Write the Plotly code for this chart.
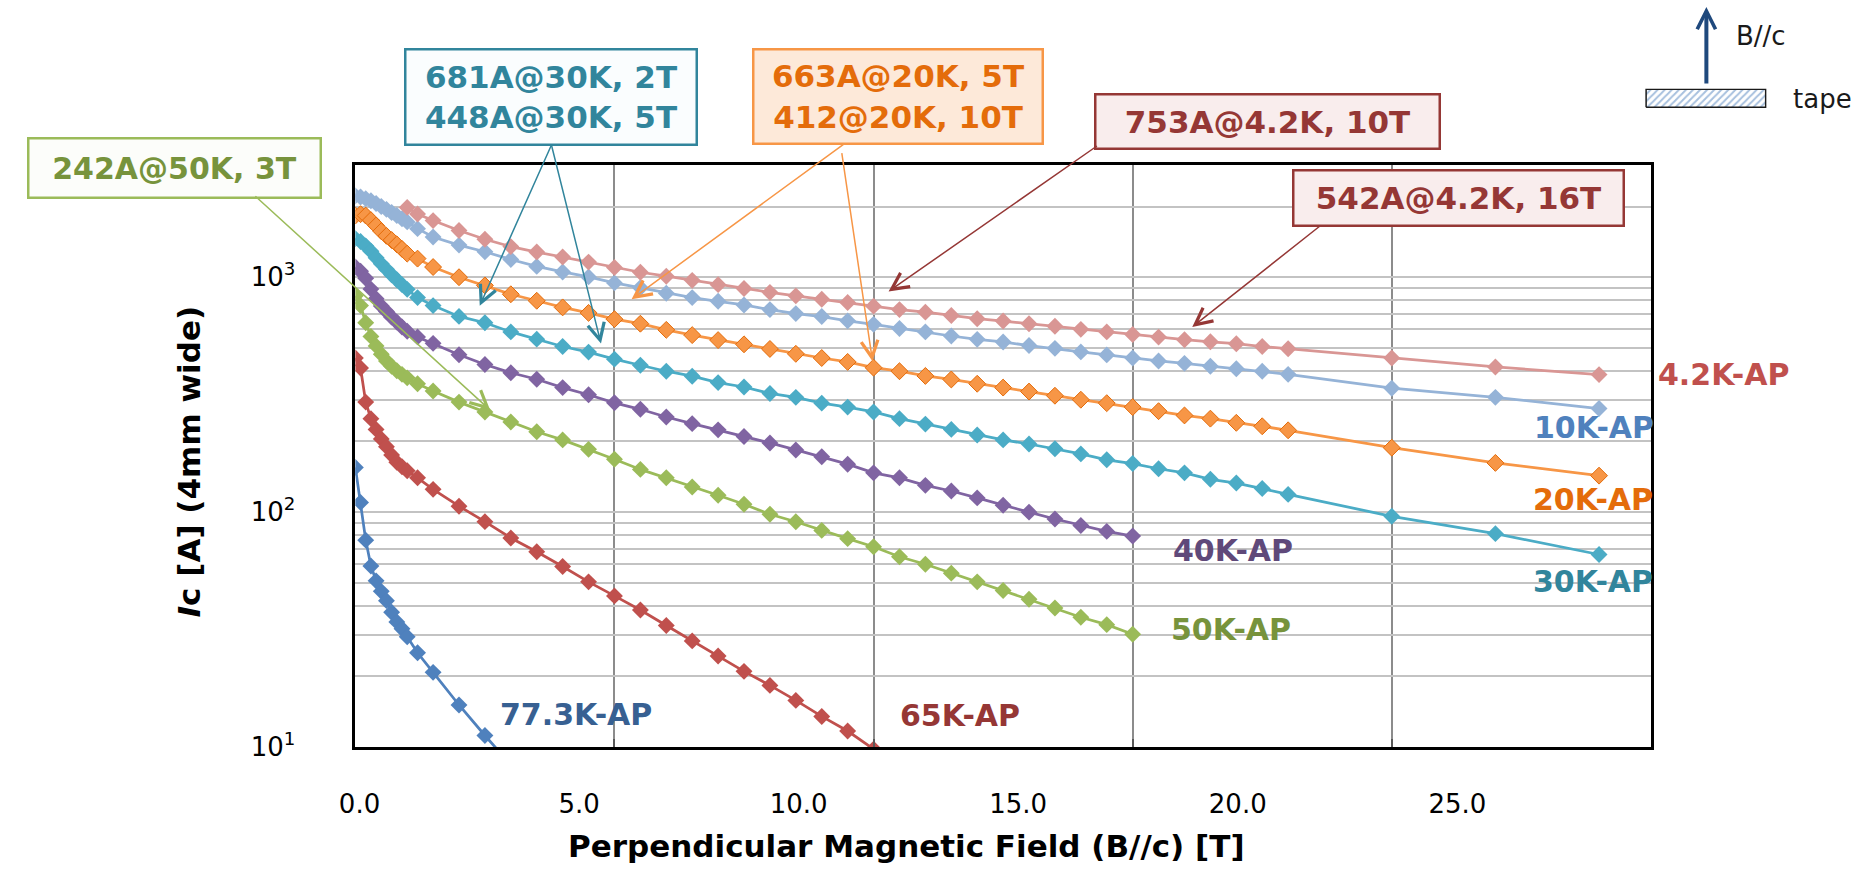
import numpy as np
import plotly.graph_objects as go

W, H = 1866, 880

# ---------------- data ----------------
B_LOW = [0.0, 0.1, 0.2, 0.3, 0.4, 0.5, 0.6, 0.7, 0.8, 0.9, 1.0, 1.2]
B_STEP = [1.5, 2.0, 2.5, 3.0, 3.5, 4.0, 4.5, 5.0, 5.5, 6.0, 6.5, 7.0, 7.5, 8.0, 8.5,
          9.0, 9.5, 10.0, 10.5, 11.0, 11.5, 12.0, 12.5, 13.0, 13.5, 14.0, 14.5, 15.0,
          15.5, 16.0, 16.5, 17.0, 17.5, 18.0]
B_HIGH = [20.0, 22.0, 24.0]

B_42K = [1.0, 1.2] + B_STEP + B_HIGH
IC_42K = [1983, 1857, 1742, 1582, 1450, 1350, 1280, 1220, 1160, 1100, 1050, 1010, 970, 930,
          895, 862, 833, 806, 781, 753, 728, 710, 687, 666, 651, 634, 618, 600, 585, 570,
          556, 542, 531, 521, 507, 496, 453, 415, 385]

B_10K = B_LOW + B_STEP + B_HIGH
IC_10K = [2220, 2195, 2160, 2115, 2060, 2000, 1945, 1885, 1830, 1775, 1720, 1610,
          1484, 1370, 1284, 1190, 1112, 1053, 1003, 946, 902, 855, 819, 790, 762, 728, 700,
          680, 652, 630, 605, 585, 562, 544, 530, 512, 498, 481, 467, 453, 440, 430, 418,
          408, 398, 386, 337, 308, 276]

B_20K = B_LOW + B_STEP + B_HIGH
IC_20K = [1830, 1855, 1830, 1750, 1660, 1570, 1500, 1440, 1380, 1320, 1260, 1200,
          1105, 1000, 923, 846, 794, 744, 705, 663, 634, 597, 567, 540, 518, 495, 472,
          453, 436, 412, 398, 380, 367, 352, 339, 326, 313, 301, 291, 280, 269, 258, 250,
          240, 232, 223, 188, 162, 143]

B_30K = B_LOW + B_STEP + B_HIGH
IC_30K = [1460, 1420, 1360, 1290, 1210, 1140, 1080, 1025, 975, 930, 888, 819,
          757, 681, 640, 585, 545, 507, 480, 448, 422, 398, 379, 356, 341, 320, 308, 291,
          280, 267, 250, 237, 225, 213, 203, 195, 186, 177, 167, 161, 153, 147, 138, 133,
          126, 119, 96, 81, 66]

B_40K = B_LOW + B_STEP[:28]
IC_40K = [1105, 1060, 990, 890, 810, 755, 715, 676, 644, 614, 589, 557,
          523, 468, 425, 392, 368, 339, 316, 292, 274, 254, 238, 224, 210, 197, 184, 172,
          160, 147, 140, 130, 123, 115, 107, 100, 93.5, 87.7, 82.8, 79.1]

B_50K = B_LOW + B_STEP[:28]
IC_50K = [833, 757, 640, 560, 510, 470, 440, 418, 400, 386, 373, 352,
          328, 294, 267, 242, 220, 203, 185, 168, 152, 140, 128, 118, 108, 98, 91, 83.6,
          77.1, 71.2, 64.6, 60.0, 55.0, 50.5, 46.4, 42.6, 39.1, 35.7, 33.2, 30.2]

B_65K = B_LOW + B_STEP[:18]
IC_65K = [453, 411, 294, 250, 225, 205, 190, 175, 163, 156, 150, 140,
          125, 106, 91.1, 77.6, 67.8, 58.7, 50.5, 44.0, 38.3, 32.9, 28.3, 24.4, 21.0, 18.3,
          15.8, 13.5, 11.7, 9.8]

B_77K = B_LOW + B_STEP[:4]
IC_77K = [155, 110, 76, 59, 51, 46, 42, 37.5, 34.1, 31.9, 29.5, 25.2, 20.8, 15.1, 11.2, 8.4]

SERIES_NAMES = ["77.3K-AP", "65K-AP", "50K-AP", "40K-AP", "30K-AP", "10K-AP", "20K-AP", "4.2K-AP"]
SERIES_X = [B_77K, B_65K, B_50K, B_40K, B_30K, B_10K, B_20K, B_42K]
SERIES_Y = [IC_77K, IC_65K, IC_50K, IC_40K, IC_30K, IC_10K, IC_20K, IC_42K]
LINE_COLORS = ["#4F81BD", "#C0504D", "#9BBB59", "#8064A2", "#4BACC6", "#95B3D7", "#F79646", "#D99694"]
LABEL_COLORS = ["#376092", "#953735", "#77933C", "#5F497A", "#31859C", "#4F81BD", "#E46C0A", "#C0504D"]

X_TICK_TEXT = ["0.0", "5.0", "10.0", "15.0", "20.0", "25.0"]
Y_GRID = [10, 20, 30, 40, 50, 60, 70, 80, 90, 100, 200, 300, 400, 500, 600, 700, 800, 900, 1000, 2000]
Y_TICK_TEXT = ["10<sup>1</sup>" if v == 10 else "10<sup>2</sup>" if v == 100 else
               "10<sup>3</sup>" if v == 1000 else "" for v in Y_GRID]

# annotation callouts: (text, field, current)
CALLOUTS = [("242A@50K, 3T", 2.6, 272),
            ("681A@30K, 2T", 2.4, 756), ("448A@30K, 5T", 4.74, 522),
            ("663A@20K, 5T", 5.33, 806), ("412@20K, 10T", 9.98, 439),
            ("753A@4.2K, 10T", 10.29, 870), ("542A@4.2K, 16T", 16.15, 614)]

# ---------------- layout geometry (pixels) ----------------
X0, X1 = 342.3, 1649.0      # plot left / right
YB, YT = 760.0, 168.0       # plot bottom / top
XMAX = 25.0
YMIN, YMAX = 10.0, 3000.0
FONT = "DejaVu Sans"

# positions of the (offset) x tick labels, in field units
X_TICK_POS = [0.08 + 4.237 * k for k in range(6)]


def fx(px):
    return px / W


def fy(py):
    return 1 - py / H


def data_px(t, v):
    px = X0 + t / XMAX * (X1 - X0)
    py = YB - (np.log10(v) - np.log10(YMIN)) / (np.log10(YMAX) - np.log10(YMIN)) * (YB - YT)
    return px, py


fig = go.Figure()

for name, xs, ys, lc in zip(SERIES_NAMES, SERIES_X, SERIES_Y, LINE_COLORS):
    mline = dict(color="#E46C0A", width=1) if name == "20K-AP" else dict(width=0)
    fig.add_trace(go.Scatter(x=xs, y=ys, mode="lines+markers", name=name,
                             line=dict(color=lc, width=2.75),
                             marker=dict(symbol="diamond", size=13, color=lc, line=mline),
                             hoverinfo="x+y+name"))

# invisible trace so the overlaid label axis is drawn
fig.add_trace(go.Scatter(x=[0, XMAX], y=[YMIN, YMIN], xaxis="x2", yaxis="y", mode="lines",
                         opacity=0, hoverinfo="skip", showlegend=False))

# hatched tape icon
fig.add_trace(go.Scatter(x=[0, 1, 1, 0, 0], y=[0, 0, 1, 1, 0], xaxis="x3", yaxis="y3",
                         mode="lines", fill="toself", fillcolor="white",
                         fillpattern=dict(shape="/", fgcolor="#4F81BD", bgcolor="white",
                                          size=5, solidity=0.4),
                         line=dict(color="#1a1a1a", width=1.5), hoverinfo="skip",
                         showlegend=False))

ann = []
# series labels
LABEL_POS = {"4.2K-AP": (1654, 381), "10K-AP": (1529, 435), "20K-AP": (1528, 508),
             "30K-AP": (1528, 592), "40K-AP": (1165, 560), "50K-AP": (1163, 640),
             "65K-AP": (890, 728), "77.3K-AP": (486, 727)}
for name, col in zip(SERIES_NAMES, LABEL_COLORS):
    px, py = LABEL_POS[name]
    ann.append(dict(text=f"<b>{name}</b>", xref="paper", yref="paper", x=fx(px), y=fy(py),
                    xanchor="left", yanchor="middle", showarrow=False,
                    font=dict(family=FONT, size=30, color=col)))

# callout boxes: (text, center px, size, text colour, border, fill, font size)
BOXES = [(CALLOUTS[0][0], (159.5, 171), (295, 62), "#77933C", "#9BBB59", "#FCFDFA", 30),
         (CALLOUTS[1][0] + "<br>" + CALLOUTS[2][0], (540, 99), (294, 98), "#31859C", "#31859C", "#FAFDFE", 31),
         (CALLOUTS[3][0] + "<br>" + CALLOUTS[4][0], (890, 98.5), (292, 97), "#E46C0A", "#F79646", "#FDE9D9", 31),
         (CALLOUTS[5][0], (1262.5, 123.5), (347, 57), "#953735", "#953735", "#F9EDED", 31),
         (CALLOUTS[6][0], (1454.5, 201), (333, 58), "#953735", "#953735", "#F9EDED", 31)]
for text, (cx, cy), (bw, bh), tc, bc, bg, fs in BOXES:
    ann.append(dict(text=f"<b>{text}</b>", xref="paper", yref="paper", x=fx(cx), y=fy(cy),
                    xanchor="center", yanchor="middle", showarrow=False,
                    width=bw - 5, height=bh - 5, borderpad=0, borderwidth=2.5,
                    bordercolor=bc, bgcolor=bg,
                    font=dict(family=FONT, size=fs, color=tc)))

# arrows from the boxes to the points
TAILS = [(242, 202, "#9BBB59"), (540, 149, "#31859C"), (540, 149, "#31859C"),
         (835, 148, "#F79646"), (833, 158, "#F79646"), (1090, 150, "#953735"),
         (1315, 231, "#953735")]
for (txt, t, v), (tx, ty, col) in zip(CALLOUTS, TAILS):
    hx, hy = data_px(t, v)
    ann.append(dict(text="", x=t, y=np.log10(v), xref="x", yref="y",
                    ax=tx - hx, ay=ty - hy, axref="pixel", ayref="pixel",
                    showarrow=True, arrowhead=5, arrowsize=2.2, arrowwidth=1.5,
                    arrowcolor=col))

# axis titles
ann.append(dict(text="<b>Perpendicular Magnetic Field (B//c) [T]</b>", xref="paper", yref="paper",
                x=fx(898), y=fy(861), xanchor="center", yanchor="middle", showarrow=False,
                font=dict(family=FONT, size=31, color="black")))
ann.append(dict(text="<b><i>I</i>c [A] (4mm wide)</b>", xref="paper", yref="paper",
                x=fx(174), y=fy(470), xanchor="center", yanchor="middle", showarrow=False,
                textangle=-90, font=dict(family=FONT, size=31, color="black")))

# B//c icon
ann.append(dict(text="", xref="paper", yref="paper", x=fx(1705), y=fy(7), ax=0, ay=78,
                showarrow=True, arrowhead=5, arrowsize=0.9, arrowwidth=4, arrowcolor="#1F497D"))
ann.append(dict(text="B//c", xref="paper", yref="paper", x=fx(1733), y=fy(37), xanchor="left",
                yanchor="middle", showarrow=False, font=dict(family=FONT, size=26, color="#1a1a1a")))
ann.append(dict(text="tape", xref="paper", yref="paper", x=fx(1790), y=fy(101), xanchor="left",
                yanchor="middle", showarrow=False, font=dict(family=FONT, size=26, color="#1a1a1a")))

fig.update_layout(
    width=W, height=H, autosize=False,
    margin=dict(l=0, r=0, t=0, b=0),
    paper_bgcolor="white", plot_bgcolor="white", showlegend=False,
    font=dict(family=FONT, color="black"),
    xaxis=dict(domain=[fx(X0), fx(X1)], range=[0, XMAX], tickvals=[5, 10, 15, 20],
               showticklabels=False, showgrid=True, gridcolor="#8C8C8C", gridwidth=1.5,
               ticks="inside", ticklen=8, tickcolor="#595959", tickwidth=1.5,
               showline=True, linecolor="black", linewidth=2.5, mirror=True,
               zeroline=False, anchor="y"),
    xaxis2=dict(overlaying="x", anchor="y", side="bottom", range=[0, XMAX],
                tickvals=X_TICK_POS, ticktext=X_TICK_TEXT, showgrid=False, showline=False,
                zeroline=False, ticks="", tickfont=dict(family=FONT, size=26, color="black"),
                ticklabelstandoff=39),
    yaxis=dict(domain=[fy(YB), fy(YT)], type="log", range=[np.log10(YMIN), np.log10(YMAX)],
               tickvals=Y_GRID, ticktext=Y_TICK_TEXT, showgrid=True, gridcolor="#C3C3C3",
               gridwidth=2, showline=True, linecolor="black", linewidth=2.5, mirror=True,
               zeroline=False, ticks="", tickfont=dict(family=FONT, size=26, color="black"),
               ticklabelstandoff=52, anchor="x"),
    xaxis3=dict(domain=[fx(1643), fx(1766)], range=[-0.01, 1.01], visible=False, anchor="y3"),
    yaxis3=dict(domain=[fy(110), fy(90)], range=[-0.05, 1.05], visible=False, anchor="x3"),
    annotations=ann,
)

fig.write_html("out.html", config={"displayModeBar": False},
               post_script="document.body.style.margin='0';document.body.style.overflow='hidden';")
